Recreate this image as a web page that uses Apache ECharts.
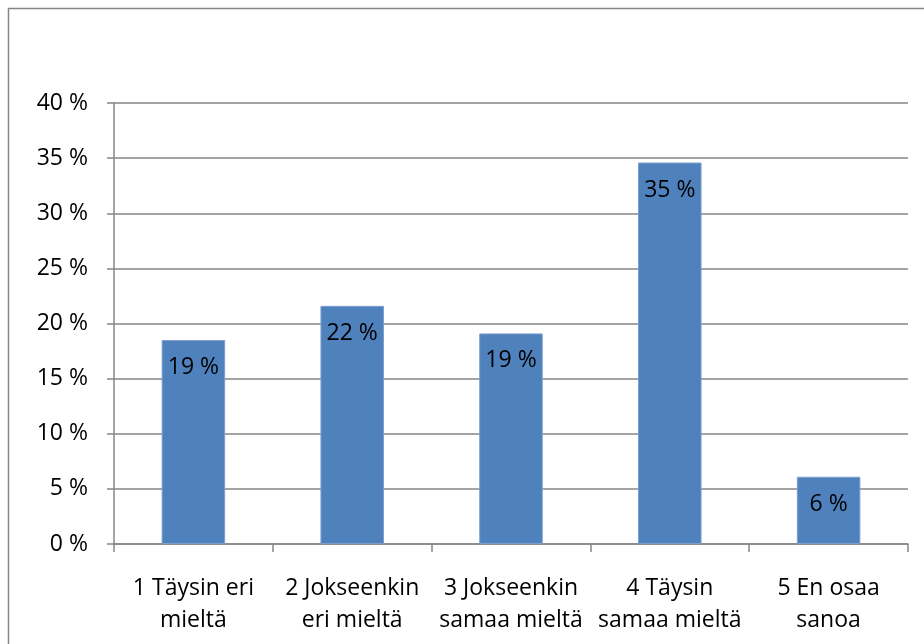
<!DOCTYPE html>
<html>
<head>
<meta charset="utf-8">
<script src="https://cdn.jsdelivr.net/npm/echarts@6/dist/echarts.min.js"></script>
<style>
  html, body { margin: 0; padding: 0; background: #ffffff; }
  #chart { width: 924px; height: 644px; }
</style>
</head>
<body>
<div id="chart"></div>
<script>
// Survey answers, share of respondents (%)
const categories = [
  '1 Täysin eri\nmieltä',
  '2 Jokseenkin\neri mieltä',
  '3 Jokseenkin\nsamaa mieltä',
  '4 Täysin\nsamaa mieltä',
  '5 En osaa\nsanoa'
];
const shares = [18.5, 21.6, 19.1, 34.6, 6.1];

// Value axis ticks
const yMin = 0;
const yMax = 40;
const yStep = 5;

const FONT = '"Open Sans", "Noto Sans", sans-serif';
const GRAY = '#868686';

const chart = echarts.init(document.getElementById('chart'), null, { renderer: 'canvas' });

chart.setOption({
  animation: false,
  backgroundColor: '#ffffff',
  graphic: [{
    type: 'rect',
    shape: { x: 8.5, y: 8.5, width: 1000, height: 1000 },
    style: { fill: 'none', stroke: GRAY, lineWidth: 1.5 },
    silent: true
  }],
  grid: { left: 114, right: 16, top: 103, bottom: 100, containLabel: false },
  xAxis: {
    type: 'category',
    data: categories,
    axisLine: { show: true, lineStyle: { color: GRAY, width: 1.5 } },
    axisTick: { show: true, length: 8, lineStyle: { color: GRAY, width: 1.5 } },
    axisLabel: {
      interval: 0,
      margin: 28,
      color: '#000000',
      fontFamily: FONT,
      fontSize: 23,
      lineHeight: 32,
      align: 'center'
    },
    splitLine: { show: false }
  },
  yAxis: {
    type: 'value',
    min: yMin,
    max: yMax,
    interval: yStep,
    axisLine: { show: true, lineStyle: { color: GRAY, width: 1.5 } },
    axisTick: { show: true, length: 7, lineStyle: { color: GRAY, width: 1.5 } },
    axisLabel: {
      margin: 26,
      color: '#000000',
      fontFamily: FONT,
      fontSize: 23,
      formatter: v => v + ' %'
    },
    splitLine: { show: true, lineStyle: { color: GRAY, width: 1.5 } }
  },
  series: [{
    type: 'bar',
    data: shares,
    barWidth: '40%',
    itemStyle: { color: '#4f81bd', borderColor: '#7b9ecf', borderWidth: 1 },
    label: {
      show: true,
      position: 'insideTop',
      distance: 16,
      color: '#000000',
      fontFamily: FONT,
      fontSize: 23,
      formatter: p => Math.round(p.value) + ' %'
    }
  }]
});
</script>
</body>
</html>
